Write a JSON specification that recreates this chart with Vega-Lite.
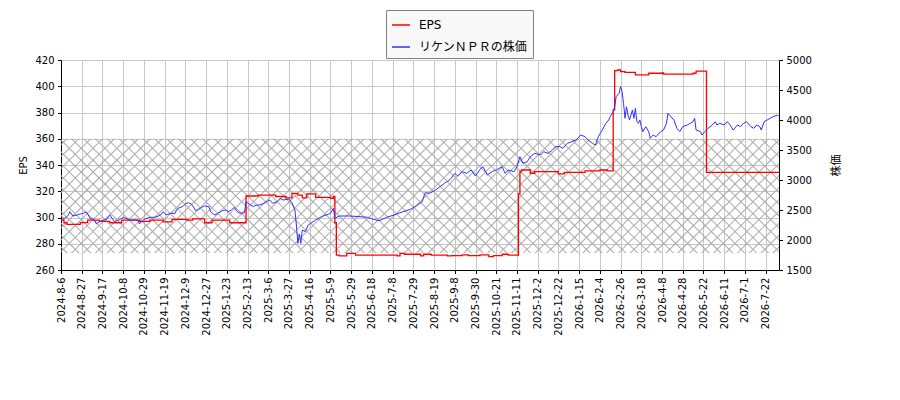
{
  "$schema": "https://vega.github.io/schema/vega-lite/v6.json",
  "width": 718,
  "height": 210,
  "autosize": {"type": "none"},
  "padding": {"left": 61, "top": 60, "right": 121, "bottom": 130},
  "background": "white",
  "view": {"stroke": null},
  "config": {
    "font": "DejaVu Sans",
    "axis": {
      "labelFont": "DejaVu Sans",
      "labelFontSize": 10,
      "labelColor": "black",
      "titleFont": "DejaVu Sans, Noto Sans CJK JP",
      "titleFontSize": 10,
      "titleFontWeight": "normal",
      "titleColor": "black",
      "domainColor": "black",
      "tickColor": "black",
      "tickSize": 3.5,
      "labelPadding": 3.5,
      "gridColor": "#c8c8c8",
      "gridOpacity": 1,
      "labelOverlap": false,
      "labelFlush": false
    }
  },
  "datasets": {
    "eps": [
      {"day": 0, "eps": 298.1}, {"day": 2, "eps": 296}, {"day": 4, "eps": 294.8}, {"day": 13, "eps": 296.1},
      {"day": 18, "eps": 298}, {"day": 26, "eps": 297}, {"day": 33, "eps": 296}, {"day": 41, "eps": 298},
      {"day": 53, "eps": 297}, {"day": 60, "eps": 298}, {"day": 69, "eps": 296.6}, {"day": 75, "eps": 298.5},
      {"day": 85, "eps": 298}, {"day": 89, "eps": 299}, {"day": 97, "eps": 296}, {"day": 102, "eps": 298},
      {"day": 114, "eps": 296}, {"day": 125, "eps": 316.4}, {"day": 133, "eps": 317.1}, {"day": 145, "eps": 316},
      {"day": 152, "eps": 315}, {"day": 156, "eps": 318.4}, {"day": 160, "eps": 317}, {"day": 163, "eps": 315},
      {"day": 166, "eps": 318}, {"day": 172, "eps": 315.4}, {"day": 182, "eps": 314.5}, {"day": 184, "eps": 316},
      {"day": 185, "eps": 296}, {"day": 186, "eps": 271.4}, {"day": 188, "eps": 270.7}, {"day": 193, "eps": 272.7},
      {"day": 199, "eps": 271.4}, {"day": 227, "eps": 270.7}, {"day": 229, "eps": 272.7}, {"day": 232, "eps": 272},
      {"day": 243, "eps": 270.7}, {"day": 245, "eps": 272}, {"day": 250, "eps": 271.4}, {"day": 261, "eps": 270.7},
      {"day": 264, "eps": 270.9}, {"day": 271, "eps": 271.6}, {"day": 275, "eps": 270.9}, {"day": 283, "eps": 271.6},
      {"day": 289, "eps": 270.2}, {"day": 292, "eps": 270.9}, {"day": 298, "eps": 272}, {"day": 302, "eps": 271.4},
      {"day": 309, "eps": 318}, {"day": 310, "eps": 335}, {"day": 311, "eps": 336.2}, {"day": 317, "eps": 333.7},
      {"day": 320, "eps": 334.9}, {"day": 336, "eps": 333.3}, {"day": 340, "eps": 334.4}, {"day": 354, "eps": 335.6},
      {"day": 364, "eps": 336.2}, {"day": 369, "eps": 335.6}, {"day": 373, "eps": 382}, {"day": 374, "eps": 411.9},
      {"day": 376, "eps": 412.4}, {"day": 378, "eps": 411.1}, {"day": 381, "eps": 410.6}, {"day": 388, "eps": 408.6},
      {"day": 397, "eps": 409.9}, {"day": 406, "eps": 410.2}, {"day": 407, "eps": 409.2}, {"day": 427, "eps": 409.9},
      {"day": 429, "eps": 411.6}, {"day": 436, "eps": 334.4}, {"day": 485, "eps": 334.4}
    ],
    "price": [
      {"day": 0, "price": 2378}, {"day": 2, "price": 2361}, {"day": 4, "price": 2389}, {"day": 5, "price": 2417},
      {"day": 6, "price": 2472}, {"day": 8, "price": 2400}, {"day": 11, "price": 2417}, {"day": 13, "price": 2433},
      {"day": 15, "price": 2444}, {"day": 17, "price": 2472}, {"day": 20, "price": 2350}, {"day": 22, "price": 2350},
      {"day": 24, "price": 2267}, {"day": 26, "price": 2306}, {"day": 29, "price": 2333}, {"day": 31, "price": 2350},
      {"day": 33, "price": 2417}, {"day": 36, "price": 2306}, {"day": 38, "price": 2322}, {"day": 40, "price": 2344},
      {"day": 42, "price": 2378}, {"day": 47, "price": 2333}, {"day": 52, "price": 2333}, {"day": 53, "price": 2267},
      {"day": 56, "price": 2344}, {"day": 60, "price": 2378}, {"day": 63, "price": 2378}, {"day": 66, "price": 2400},
      {"day": 68, "price": 2433}, {"day": 69, "price": 2472}, {"day": 71, "price": 2417}, {"day": 74, "price": 2444},
      {"day": 77, "price": 2444}, {"day": 78, "price": 2500}, {"day": 79, "price": 2528}, {"day": 82, "price": 2556},
      {"day": 84, "price": 2600}, {"day": 86, "price": 2622}, {"day": 88, "price": 2600}, {"day": 89, "price": 2567},
      {"day": 91, "price": 2489}, {"day": 93, "price": 2511}, {"day": 95, "price": 2544}, {"day": 97, "price": 2567},
      {"day": 100, "price": 2556}, {"day": 101, "price": 2472}, {"day": 103, "price": 2433}, {"day": 104, "price": 2417},
      {"day": 106, "price": 2444}, {"day": 109, "price": 2489}, {"day": 111, "price": 2500}, {"day": 113, "price": 2472},
      {"day": 115, "price": 2500}, {"day": 117, "price": 2544}, {"day": 119, "price": 2472}, {"day": 121, "price": 2444},
      {"day": 124, "price": 2456}, {"day": 125, "price": 2639}, {"day": 128, "price": 2583}, {"day": 130, "price": 2556},
      {"day": 132, "price": 2583}, {"day": 134, "price": 2583}, {"day": 137, "price": 2611}, {"day": 139, "price": 2639},
      {"day": 141, "price": 2667}, {"day": 143, "price": 2611}, {"day": 146, "price": 2639}, {"day": 148, "price": 2694},
      {"day": 150, "price": 2667}, {"day": 154, "price": 2680}, {"day": 156, "price": 2620}, {"day": 158, "price": 2500},
      {"day": 159, "price": 2250}, {"day": 160, "price": 1944}, {"day": 161, "price": 2100}, {"day": 162, "price": 1944},
      {"day": 163, "price": 2167}, {"day": 165, "price": 2139}, {"day": 167, "price": 2250}, {"day": 172, "price": 2333},
      {"day": 176, "price": 2389}, {"day": 182, "price": 2444}, {"day": 184, "price": 2528}, {"day": 185, "price": 2361},
      {"day": 188, "price": 2400}, {"day": 195, "price": 2400}, {"day": 202, "price": 2389}, {"day": 207, "price": 2378},
      {"day": 211, "price": 2344}, {"day": 215, "price": 2322}, {"day": 220, "price": 2378}, {"day": 225, "price": 2417},
      {"day": 231, "price": 2472}, {"day": 236, "price": 2511}, {"day": 240, "price": 2567}, {"day": 244, "price": 2639},
      {"day": 246, "price": 2789}, {"day": 249, "price": 2778}, {"day": 253, "price": 2833}, {"day": 256, "price": 2889},
      {"day": 259, "price": 2944}, {"day": 263, "price": 3011}, {"day": 266, "price": 3111}, {"day": 268, "price": 3067},
      {"day": 271, "price": 3139}, {"day": 274, "price": 3111}, {"day": 277, "price": 3167}, {"day": 280, "price": 3067},
      {"day": 283, "price": 3178}, {"day": 285, "price": 3222}, {"day": 288, "price": 3083}, {"day": 291, "price": 3139},
      {"day": 294, "price": 3167}, {"day": 298, "price": 3222}, {"day": 300, "price": 3111}, {"day": 302, "price": 3167},
      {"day": 306, "price": 3139}, {"day": 308, "price": 3222}, {"day": 310, "price": 3389}, {"day": 312, "price": 3278},
      {"day": 315, "price": 3306}, {"day": 317, "price": 3389}, {"day": 320, "price": 3444}, {"day": 324, "price": 3417},
      {"day": 326, "price": 3472}, {"day": 329, "price": 3444}, {"day": 332, "price": 3500}, {"day": 334, "price": 3556},
      {"day": 337, "price": 3556}, {"day": 339, "price": 3528}, {"day": 342, "price": 3611}, {"day": 345, "price": 3639},
      {"day": 348, "price": 3667}, {"day": 351, "price": 3750}, {"day": 354, "price": 3722}, {"day": 356, "price": 3667},
      {"day": 359, "price": 3611}, {"day": 361, "price": 3583}, {"day": 363, "price": 3722}, {"day": 365, "price": 3806},
      {"day": 368, "price": 3944}, {"day": 370, "price": 4000}, {"day": 371, "price": 4056}, {"day": 373, "price": 4139},
      {"day": 374, "price": 4222}, {"day": 375, "price": 4389}, {"day": 377, "price": 4444}, {"day": 378, "price": 4556},
      {"day": 379, "price": 4472}, {"day": 380, "price": 4278}, {"day": 381, "price": 4028}, {"day": 382, "price": 4222},
      {"day": 383, "price": 4083}, {"day": 384, "price": 4000}, {"day": 386, "price": 4167}, {"day": 387, "price": 4028},
      {"day": 388, "price": 4194}, {"day": 389, "price": 3972}, {"day": 390, "price": 3944}, {"day": 391, "price": 4000},
      {"day": 392, "price": 3889}, {"day": 393, "price": 3806}, {"day": 395, "price": 3889}, {"day": 397, "price": 3806},
      {"day": 398, "price": 3694}, {"day": 400, "price": 3750}, {"day": 402, "price": 3722}, {"day": 405, "price": 3806},
      {"day": 407, "price": 3833}, {"day": 409, "price": 3944}, {"day": 410, "price": 4111}, {"day": 411, "price": 4083},
      {"day": 414, "price": 4000}, {"day": 416, "price": 3861}, {"day": 418, "price": 3806}, {"day": 420, "price": 3889},
      {"day": 423, "price": 3917}, {"day": 425, "price": 3944}, {"day": 427, "price": 3972}, {"day": 428, "price": 4028},
      {"day": 429, "price": 3833}, {"day": 432, "price": 3806}, {"day": 433, "price": 3750}, {"day": 435, "price": 3806},
      {"day": 437, "price": 3861}, {"day": 440, "price": 3917}, {"day": 442, "price": 3972}, {"day": 443, "price": 3917},
      {"day": 445, "price": 3944}, {"day": 448, "price": 3917}, {"day": 450, "price": 3972}, {"day": 452, "price": 3917},
      {"day": 454, "price": 3833}, {"day": 457, "price": 3917}, {"day": 459, "price": 3889}, {"day": 461, "price": 3944},
      {"day": 463, "price": 3972}, {"day": 466, "price": 3889}, {"day": 468, "price": 3861}, {"day": 470, "price": 3917},
      {"day": 472, "price": 3889}, {"day": 473, "price": 3833}, {"day": 475, "price": 3972}, {"day": 477, "price": 4000},
      {"day": 479, "price": 4028}, {"day": 481, "price": 4056}, {"day": 484, "price": 4083}, {"day": 485, "price": 4056}
    ]
  },
  "layer": [
    {
      "layer": [
        {
          "data": {"values": [{}]},
          "mark": {
            "type": "rect",
            "fill": {
              "gradient": "linear", "x1": 0, "y1": 0, "x2": 1.1305, "y2": 0.1798,
              "stops": [
                {"offset":0.00544,"color":"#aaa0"},{"offset":0.00714,"color":"#aaa"},{"offset":0.00884,"color":"#aaa0"},
                {"offset":0.01973,"color":"#aaa0"},{"offset":0.02143,"color":"#aaa"},{"offset":0.02313,"color":"#aaa0"},
                {"offset":0.03401,"color":"#aaa0"},{"offset":0.03571,"color":"#aaa"},{"offset":0.03741,"color":"#aaa0"},
                {"offset":0.0483,"color":"#aaa0"},{"offset":0.05,"color":"#aaa"},{"offset":0.0517,"color":"#aaa0"},
                {"offset":0.06259,"color":"#aaa0"},{"offset":0.06429,"color":"#aaa"},{"offset":0.06599,"color":"#aaa0"},
                {"offset":0.07687,"color":"#aaa0"},{"offset":0.07857,"color":"#aaa"},{"offset":0.08027,"color":"#aaa0"},
                {"offset":0.09116,"color":"#aaa0"},{"offset":0.09286,"color":"#aaa"},{"offset":0.09456,"color":"#aaa0"},
                {"offset":0.10544,"color":"#aaa0"},{"offset":0.10714,"color":"#aaa"},{"offset":0.10884,"color":"#aaa0"},
                {"offset":0.11973,"color":"#aaa0"},{"offset":0.12143,"color":"#aaa"},{"offset":0.12313,"color":"#aaa0"},
                {"offset":0.13401,"color":"#aaa0"},{"offset":0.13571,"color":"#aaa"},{"offset":0.13741,"color":"#aaa0"},
                {"offset":0.1483,"color":"#aaa0"},{"offset":0.15,"color":"#aaa"},{"offset":0.1517,"color":"#aaa0"},
                {"offset":0.16259,"color":"#aaa0"},{"offset":0.16429,"color":"#aaa"},{"offset":0.16599,"color":"#aaa0"},
                {"offset":0.17687,"color":"#aaa0"},{"offset":0.17857,"color":"#aaa"},{"offset":0.18027,"color":"#aaa0"},
                {"offset":0.19116,"color":"#aaa0"},{"offset":0.19286,"color":"#aaa"},{"offset":0.19456,"color":"#aaa0"},
                {"offset":0.20544,"color":"#aaa0"},{"offset":0.20714,"color":"#aaa"},{"offset":0.20884,"color":"#aaa0"},
                {"offset":0.21973,"color":"#aaa0"},{"offset":0.22143,"color":"#aaa"},{"offset":0.22313,"color":"#aaa0"},
                {"offset":0.23401,"color":"#aaa0"},{"offset":0.23571,"color":"#aaa"},{"offset":0.23741,"color":"#aaa0"},
                {"offset":0.2483,"color":"#aaa0"},{"offset":0.25,"color":"#aaa"},{"offset":0.2517,"color":"#aaa0"},
                {"offset":0.26259,"color":"#aaa0"},{"offset":0.26429,"color":"#aaa"},{"offset":0.26599,"color":"#aaa0"},
                {"offset":0.27687,"color":"#aaa0"},{"offset":0.27857,"color":"#aaa"},{"offset":0.28027,"color":"#aaa0"},
                {"offset":0.29116,"color":"#aaa0"},{"offset":0.29286,"color":"#aaa"},{"offset":0.29456,"color":"#aaa0"},
                {"offset":0.30544,"color":"#aaa0"},{"offset":0.30714,"color":"#aaa"},{"offset":0.30884,"color":"#aaa0"},
                {"offset":0.31973,"color":"#aaa0"},{"offset":0.32143,"color":"#aaa"},{"offset":0.32313,"color":"#aaa0"},
                {"offset":0.33401,"color":"#aaa0"},{"offset":0.33571,"color":"#aaa"},{"offset":0.33741,"color":"#aaa0"},
                {"offset":0.3483,"color":"#aaa0"},{"offset":0.35,"color":"#aaa"},{"offset":0.3517,"color":"#aaa0"},
                {"offset":0.36259,"color":"#aaa0"},{"offset":0.36429,"color":"#aaa"},{"offset":0.36599,"color":"#aaa0"},
                {"offset":0.37687,"color":"#aaa0"},{"offset":0.37857,"color":"#aaa"},{"offset":0.38027,"color":"#aaa0"},
                {"offset":0.39116,"color":"#aaa0"},{"offset":0.39286,"color":"#aaa"},{"offset":0.39456,"color":"#aaa0"},
                {"offset":0.40544,"color":"#aaa0"},{"offset":0.40714,"color":"#aaa"},{"offset":0.40884,"color":"#aaa0"},
                {"offset":0.41973,"color":"#aaa0"},{"offset":0.42143,"color":"#aaa"},{"offset":0.42313,"color":"#aaa0"},
                {"offset":0.43401,"color":"#aaa0"},{"offset":0.43571,"color":"#aaa"},{"offset":0.43741,"color":"#aaa0"},
                {"offset":0.4483,"color":"#aaa0"},{"offset":0.45,"color":"#aaa"},{"offset":0.4517,"color":"#aaa0"},
                {"offset":0.46259,"color":"#aaa0"},{"offset":0.46429,"color":"#aaa"},{"offset":0.46599,"color":"#aaa0"},
                {"offset":0.47687,"color":"#aaa0"},{"offset":0.47857,"color":"#aaa"},{"offset":0.48027,"color":"#aaa0"},
                {"offset":0.49116,"color":"#aaa0"},{"offset":0.49286,"color":"#aaa"},{"offset":0.49456,"color":"#aaa0"},
                {"offset":0.50544,"color":"#aaa0"},{"offset":0.50714,"color":"#aaa"},{"offset":0.50884,"color":"#aaa0"},
                {"offset":0.51973,"color":"#aaa0"},{"offset":0.52143,"color":"#aaa"},{"offset":0.52313,"color":"#aaa0"},
                {"offset":0.53401,"color":"#aaa0"},{"offset":0.53571,"color":"#aaa"},{"offset":0.53741,"color":"#aaa0"},
                {"offset":0.5483,"color":"#aaa0"},{"offset":0.55,"color":"#aaa"},{"offset":0.5517,"color":"#aaa0"},
                {"offset":0.56259,"color":"#aaa0"},{"offset":0.56429,"color":"#aaa"},{"offset":0.56599,"color":"#aaa0"},
                {"offset":0.57687,"color":"#aaa0"},{"offset":0.57857,"color":"#aaa"},{"offset":0.58027,"color":"#aaa0"},
                {"offset":0.59116,"color":"#aaa0"},{"offset":0.59286,"color":"#aaa"},{"offset":0.59456,"color":"#aaa0"},
                {"offset":0.60544,"color":"#aaa0"},{"offset":0.60714,"color":"#aaa"},{"offset":0.60884,"color":"#aaa0"},
                {"offset":0.61973,"color":"#aaa0"},{"offset":0.62143,"color":"#aaa"},{"offset":0.62313,"color":"#aaa0"},
                {"offset":0.63401,"color":"#aaa0"},{"offset":0.63571,"color":"#aaa"},{"offset":0.63741,"color":"#aaa0"},
                {"offset":0.6483,"color":"#aaa0"},{"offset":0.65,"color":"#aaa"},{"offset":0.6517,"color":"#aaa0"},
                {"offset":0.66259,"color":"#aaa0"},{"offset":0.66429,"color":"#aaa"},{"offset":0.66599,"color":"#aaa0"},
                {"offset":0.67687,"color":"#aaa0"},{"offset":0.67857,"color":"#aaa"},{"offset":0.68027,"color":"#aaa0"},
                {"offset":0.69116,"color":"#aaa0"},{"offset":0.69286,"color":"#aaa"},{"offset":0.69456,"color":"#aaa0"},
                {"offset":0.70544,"color":"#aaa0"},{"offset":0.70714,"color":"#aaa"},{"offset":0.70884,"color":"#aaa0"},
                {"offset":0.71973,"color":"#aaa0"},{"offset":0.72143,"color":"#aaa"},{"offset":0.72313,"color":"#aaa0"},
                {"offset":0.73401,"color":"#aaa0"},{"offset":0.73571,"color":"#aaa"},{"offset":0.73741,"color":"#aaa0"},
                {"offset":0.7483,"color":"#aaa0"},{"offset":0.75,"color":"#aaa"},{"offset":0.7517,"color":"#aaa0"},
                {"offset":0.76259,"color":"#aaa0"},{"offset":0.76429,"color":"#aaa"},{"offset":0.76599,"color":"#aaa0"},
                {"offset":0.77687,"color":"#aaa0"},{"offset":0.77857,"color":"#aaa"},{"offset":0.78027,"color":"#aaa0"},
                {"offset":0.79116,"color":"#aaa0"},{"offset":0.79286,"color":"#aaa"},{"offset":0.79456,"color":"#aaa0"},
                {"offset":0.80544,"color":"#aaa0"},{"offset":0.80714,"color":"#aaa"},{"offset":0.80884,"color":"#aaa0"},
                {"offset":0.81973,"color":"#aaa0"},{"offset":0.82143,"color":"#aaa"},{"offset":0.82313,"color":"#aaa0"},
                {"offset":0.83401,"color":"#aaa0"},{"offset":0.83571,"color":"#aaa"},{"offset":0.83741,"color":"#aaa0"},
                {"offset":0.8483,"color":"#aaa0"},{"offset":0.85,"color":"#aaa"},{"offset":0.8517,"color":"#aaa0"},
                {"offset":0.86259,"color":"#aaa0"},{"offset":0.86429,"color":"#aaa"},{"offset":0.86599,"color":"#aaa0"},
                {"offset":0.87687,"color":"#aaa0"},{"offset":0.87857,"color":"#aaa"},{"offset":0.88027,"color":"#aaa0"},
                {"offset":0.89116,"color":"#aaa0"},{"offset":0.89286,"color":"#aaa"},{"offset":0.89456,"color":"#aaa0"},
                {"offset":0.90544,"color":"#aaa0"},{"offset":0.90714,"color":"#aaa"},{"offset":0.90884,"color":"#aaa0"},
                {"offset":0.91973,"color":"#aaa0"},{"offset":0.92143,"color":"#aaa"},{"offset":0.92313,"color":"#aaa0"},
                {"offset":0.93401,"color":"#aaa0"},{"offset":0.93571,"color":"#aaa"},{"offset":0.93741,"color":"#aaa0"},
                {"offset":0.9483,"color":"#aaa0"},{"offset":0.95,"color":"#aaa"},{"offset":0.9517,"color":"#aaa0"},
                {"offset":0.96259,"color":"#aaa0"},{"offset":0.96429,"color":"#aaa"},{"offset":0.96599,"color":"#aaa0"},
                {"offset":0.97687,"color":"#aaa0"},{"offset":0.97857,"color":"#aaa"},{"offset":0.98027,"color":"#aaa0"},
                {"offset":0.99116,"color":"#aaa0"},{"offset":0.99286,"color":"#aaa"},{"offset":0.99456,"color":"#aaa0"}
              ]
            }
          },
          "encoding": {
            "x": {
              "datum": 0, "type": "quantitative", "title": null,
              "scale": {"domain": [0, 485], "nice": false, "zero": false},
              "axis": {
                "values": [0, 14, 28, 42, 56, 70, 84, 98, 112, 126, 140, 154, 168, 182, 196, 210, 224, 238, 252, 266, 280, 294, 308, 322, 336, 350, 364, 378, 392, 406, 420, 434, 448, 462, 476],
                "labelExpr": "['2024-8-6','2024-8-27','2024-9-17','2024-10-8','2024-10-29','2024-11-19','2024-12-9','2024-12-27','2025-1-23','2025-2-13','2025-3-6','2025-3-27','2025-4-16','2025-5-9','2025-5-29','2025-6-18','2025-7-8','2025-7-29','2025-8-19','2025-9-8','2025-9-30','2025-10-21','2025-11-11','2025-12-2','2025-12-22','2026-1-15','2026-2-4','2026-2-26','2026-3-18','2026-4-8','2026-4-28','2026-5-22','2026-6-11','2026-7-1','2026-7-22'][round(datum.value / 14)]",
                "labelAngle": 270, "grid": true, "labelOverlap": false
              }
            },
            "x2": {"datum": 485},
            "y": {
              "datum": 360, "type": "quantitative", "title": "EPS",
              "scale": {"domain": [260, 420], "nice": false, "zero": false},
              "axis": {"values": [260, 280, 300, 320, 340, 360, 380, 400, 420], "grid": true, "titlePadding": 6, "labelOverlap": false}
            },
            "y2": {"datum": 273}
          }
        },
        {
          "data": {"values": [{}]},
          "mark": {
            "type": "rect",
            "fill": {
              "gradient": "linear", "x1": 0, "y1": 1, "x2": 1.1305, "y2": 0.8202,
              "stops": [
                {"offset":0.00544,"color":"#aaa0"},{"offset":0.00714,"color":"#aaa"},{"offset":0.00884,"color":"#aaa0"},
                {"offset":0.01973,"color":"#aaa0"},{"offset":0.02143,"color":"#aaa"},{"offset":0.02313,"color":"#aaa0"},
                {"offset":0.03401,"color":"#aaa0"},{"offset":0.03571,"color":"#aaa"},{"offset":0.03741,"color":"#aaa0"},
                {"offset":0.0483,"color":"#aaa0"},{"offset":0.05,"color":"#aaa"},{"offset":0.0517,"color":"#aaa0"},
                {"offset":0.06259,"color":"#aaa0"},{"offset":0.06429,"color":"#aaa"},{"offset":0.06599,"color":"#aaa0"},
                {"offset":0.07687,"color":"#aaa0"},{"offset":0.07857,"color":"#aaa"},{"offset":0.08027,"color":"#aaa0"},
                {"offset":0.09116,"color":"#aaa0"},{"offset":0.09286,"color":"#aaa"},{"offset":0.09456,"color":"#aaa0"},
                {"offset":0.10544,"color":"#aaa0"},{"offset":0.10714,"color":"#aaa"},{"offset":0.10884,"color":"#aaa0"},
                {"offset":0.11973,"color":"#aaa0"},{"offset":0.12143,"color":"#aaa"},{"offset":0.12313,"color":"#aaa0"},
                {"offset":0.13401,"color":"#aaa0"},{"offset":0.13571,"color":"#aaa"},{"offset":0.13741,"color":"#aaa0"},
                {"offset":0.1483,"color":"#aaa0"},{"offset":0.15,"color":"#aaa"},{"offset":0.1517,"color":"#aaa0"},
                {"offset":0.16259,"color":"#aaa0"},{"offset":0.16429,"color":"#aaa"},{"offset":0.16599,"color":"#aaa0"},
                {"offset":0.17687,"color":"#aaa0"},{"offset":0.17857,"color":"#aaa"},{"offset":0.18027,"color":"#aaa0"},
                {"offset":0.19116,"color":"#aaa0"},{"offset":0.19286,"color":"#aaa"},{"offset":0.19456,"color":"#aaa0"},
                {"offset":0.20544,"color":"#aaa0"},{"offset":0.20714,"color":"#aaa"},{"offset":0.20884,"color":"#aaa0"},
                {"offset":0.21973,"color":"#aaa0"},{"offset":0.22143,"color":"#aaa"},{"offset":0.22313,"color":"#aaa0"},
                {"offset":0.23401,"color":"#aaa0"},{"offset":0.23571,"color":"#aaa"},{"offset":0.23741,"color":"#aaa0"},
                {"offset":0.2483,"color":"#aaa0"},{"offset":0.25,"color":"#aaa"},{"offset":0.2517,"color":"#aaa0"},
                {"offset":0.26259,"color":"#aaa0"},{"offset":0.26429,"color":"#aaa"},{"offset":0.26599,"color":"#aaa0"},
                {"offset":0.27687,"color":"#aaa0"},{"offset":0.27857,"color":"#aaa"},{"offset":0.28027,"color":"#aaa0"},
                {"offset":0.29116,"color":"#aaa0"},{"offset":0.29286,"color":"#aaa"},{"offset":0.29456,"color":"#aaa0"},
                {"offset":0.30544,"color":"#aaa0"},{"offset":0.30714,"color":"#aaa"},{"offset":0.30884,"color":"#aaa0"},
                {"offset":0.31973,"color":"#aaa0"},{"offset":0.32143,"color":"#aaa"},{"offset":0.32313,"color":"#aaa0"},
                {"offset":0.33401,"color":"#aaa0"},{"offset":0.33571,"color":"#aaa"},{"offset":0.33741,"color":"#aaa0"},
                {"offset":0.3483,"color":"#aaa0"},{"offset":0.35,"color":"#aaa"},{"offset":0.3517,"color":"#aaa0"},
                {"offset":0.36259,"color":"#aaa0"},{"offset":0.36429,"color":"#aaa"},{"offset":0.36599,"color":"#aaa0"},
                {"offset":0.37687,"color":"#aaa0"},{"offset":0.37857,"color":"#aaa"},{"offset":0.38027,"color":"#aaa0"},
                {"offset":0.39116,"color":"#aaa0"},{"offset":0.39286,"color":"#aaa"},{"offset":0.39456,"color":"#aaa0"},
                {"offset":0.40544,"color":"#aaa0"},{"offset":0.40714,"color":"#aaa"},{"offset":0.40884,"color":"#aaa0"},
                {"offset":0.41973,"color":"#aaa0"},{"offset":0.42143,"color":"#aaa"},{"offset":0.42313,"color":"#aaa0"},
                {"offset":0.43401,"color":"#aaa0"},{"offset":0.43571,"color":"#aaa"},{"offset":0.43741,"color":"#aaa0"},
                {"offset":0.4483,"color":"#aaa0"},{"offset":0.45,"color":"#aaa"},{"offset":0.4517,"color":"#aaa0"},
                {"offset":0.46259,"color":"#aaa0"},{"offset":0.46429,"color":"#aaa"},{"offset":0.46599,"color":"#aaa0"},
                {"offset":0.47687,"color":"#aaa0"},{"offset":0.47857,"color":"#aaa"},{"offset":0.48027,"color":"#aaa0"},
                {"offset":0.49116,"color":"#aaa0"},{"offset":0.49286,"color":"#aaa"},{"offset":0.49456,"color":"#aaa0"},
                {"offset":0.50544,"color":"#aaa0"},{"offset":0.50714,"color":"#aaa"},{"offset":0.50884,"color":"#aaa0"},
                {"offset":0.51973,"color":"#aaa0"},{"offset":0.52143,"color":"#aaa"},{"offset":0.52313,"color":"#aaa0"},
                {"offset":0.53401,"color":"#aaa0"},{"offset":0.53571,"color":"#aaa"},{"offset":0.53741,"color":"#aaa0"},
                {"offset":0.5483,"color":"#aaa0"},{"offset":0.55,"color":"#aaa"},{"offset":0.5517,"color":"#aaa0"},
                {"offset":0.56259,"color":"#aaa0"},{"offset":0.56429,"color":"#aaa"},{"offset":0.56599,"color":"#aaa0"},
                {"offset":0.57687,"color":"#aaa0"},{"offset":0.57857,"color":"#aaa"},{"offset":0.58027,"color":"#aaa0"},
                {"offset":0.59116,"color":"#aaa0"},{"offset":0.59286,"color":"#aaa"},{"offset":0.59456,"color":"#aaa0"},
                {"offset":0.60544,"color":"#aaa0"},{"offset":0.60714,"color":"#aaa"},{"offset":0.60884,"color":"#aaa0"},
                {"offset":0.61973,"color":"#aaa0"},{"offset":0.62143,"color":"#aaa"},{"offset":0.62313,"color":"#aaa0"},
                {"offset":0.63401,"color":"#aaa0"},{"offset":0.63571,"color":"#aaa"},{"offset":0.63741,"color":"#aaa0"},
                {"offset":0.6483,"color":"#aaa0"},{"offset":0.65,"color":"#aaa"},{"offset":0.6517,"color":"#aaa0"},
                {"offset":0.66259,"color":"#aaa0"},{"offset":0.66429,"color":"#aaa"},{"offset":0.66599,"color":"#aaa0"},
                {"offset":0.67687,"color":"#aaa0"},{"offset":0.67857,"color":"#aaa"},{"offset":0.68027,"color":"#aaa0"},
                {"offset":0.69116,"color":"#aaa0"},{"offset":0.69286,"color":"#aaa"},{"offset":0.69456,"color":"#aaa0"},
                {"offset":0.70544,"color":"#aaa0"},{"offset":0.70714,"color":"#aaa"},{"offset":0.70884,"color":"#aaa0"},
                {"offset":0.71973,"color":"#aaa0"},{"offset":0.72143,"color":"#aaa"},{"offset":0.72313,"color":"#aaa0"},
                {"offset":0.73401,"color":"#aaa0"},{"offset":0.73571,"color":"#aaa"},{"offset":0.73741,"color":"#aaa0"},
                {"offset":0.7483,"color":"#aaa0"},{"offset":0.75,"color":"#aaa"},{"offset":0.7517,"color":"#aaa0"},
                {"offset":0.76259,"color":"#aaa0"},{"offset":0.76429,"color":"#aaa"},{"offset":0.76599,"color":"#aaa0"},
                {"offset":0.77687,"color":"#aaa0"},{"offset":0.77857,"color":"#aaa"},{"offset":0.78027,"color":"#aaa0"},
                {"offset":0.79116,"color":"#aaa0"},{"offset":0.79286,"color":"#aaa"},{"offset":0.79456,"color":"#aaa0"},
                {"offset":0.80544,"color":"#aaa0"},{"offset":0.80714,"color":"#aaa"},{"offset":0.80884,"color":"#aaa0"},
                {"offset":0.81973,"color":"#aaa0"},{"offset":0.82143,"color":"#aaa"},{"offset":0.82313,"color":"#aaa0"},
                {"offset":0.83401,"color":"#aaa0"},{"offset":0.83571,"color":"#aaa"},{"offset":0.83741,"color":"#aaa0"},
                {"offset":0.8483,"color":"#aaa0"},{"offset":0.85,"color":"#aaa"},{"offset":0.8517,"color":"#aaa0"},
                {"offset":0.86259,"color":"#aaa0"},{"offset":0.86429,"color":"#aaa"},{"offset":0.86599,"color":"#aaa0"},
                {"offset":0.87687,"color":"#aaa0"},{"offset":0.87857,"color":"#aaa"},{"offset":0.88027,"color":"#aaa0"},
                {"offset":0.89116,"color":"#aaa0"},{"offset":0.89286,"color":"#aaa"},{"offset":0.89456,"color":"#aaa0"},
                {"offset":0.90544,"color":"#aaa0"},{"offset":0.90714,"color":"#aaa"},{"offset":0.90884,"color":"#aaa0"},
                {"offset":0.91973,"color":"#aaa0"},{"offset":0.92143,"color":"#aaa"},{"offset":0.92313,"color":"#aaa0"},
                {"offset":0.93401,"color":"#aaa0"},{"offset":0.93571,"color":"#aaa"},{"offset":0.93741,"color":"#aaa0"},
                {"offset":0.9483,"color":"#aaa0"},{"offset":0.95,"color":"#aaa"},{"offset":0.9517,"color":"#aaa0"},
                {"offset":0.96259,"color":"#aaa0"},{"offset":0.96429,"color":"#aaa"},{"offset":0.96599,"color":"#aaa0"},
                {"offset":0.97687,"color":"#aaa0"},{"offset":0.97857,"color":"#aaa"},{"offset":0.98027,"color":"#aaa0"},
                {"offset":0.99116,"color":"#aaa0"},{"offset":0.99286,"color":"#aaa"},{"offset":0.99456,"color":"#aaa0"}
              ]
            }
          },
          "encoding": {
            "x": {
              "datum": 0, "type": "quantitative", "title": null,
              "scale": {"domain": [0, 485], "nice": false, "zero": false},
              "axis": {
                "values": [0, 14, 28, 42, 56, 70, 84, 98, 112, 126, 140, 154, 168, 182, 196, 210, 224, 238, 252, 266, 280, 294, 308, 322, 336, 350, 364, 378, 392, 406, 420, 434, 448, 462, 476],
                "labelExpr": "['2024-8-6','2024-8-27','2024-9-17','2024-10-8','2024-10-29','2024-11-19','2024-12-9','2024-12-27','2025-1-23','2025-2-13','2025-3-6','2025-3-27','2025-4-16','2025-5-9','2025-5-29','2025-6-18','2025-7-8','2025-7-29','2025-8-19','2025-9-8','2025-9-30','2025-10-21','2025-11-11','2025-12-2','2025-12-22','2026-1-15','2026-2-4','2026-2-26','2026-3-18','2026-4-8','2026-4-28','2026-5-22','2026-6-11','2026-7-1','2026-7-22'][round(datum.value / 14)]",
                "labelAngle": 270, "grid": true, "labelOverlap": false
              }
            },
            "x2": {"datum": 485},
            "y": {
              "datum": 360, "type": "quantitative", "title": "EPS",
              "scale": {"domain": [260, 420], "nice": false, "zero": false},
              "axis": {"values": [260, 280, 300, 320, 340, 360, 380, 400, 420], "grid": true, "titlePadding": 6, "labelOverlap": false}
            },
            "y2": {"datum": 273}
          }
        },
        {
          "data": {"name": "eps"},
          "mark": {"type": "line", "interpolate": "step-after", "strokeWidth": 1.3},
          "encoding": {
            "x": {
              "field": "day", "type": "quantitative", "title": null,
              "scale": {"domain": [0, 485], "nice": false, "zero": false},
              "axis": {
                "values": [0, 14, 28, 42, 56, 70, 84, 98, 112, 126, 140, 154, 168, 182, 196, 210, 224, 238, 252, 266, 280, 294, 308, 322, 336, 350, 364, 378, 392, 406, 420, 434, 448, 462, 476],
                "labelExpr": "['2024-8-6','2024-8-27','2024-9-17','2024-10-8','2024-10-29','2024-11-19','2024-12-9','2024-12-27','2025-1-23','2025-2-13','2025-3-6','2025-3-27','2025-4-16','2025-5-9','2025-5-29','2025-6-18','2025-7-8','2025-7-29','2025-8-19','2025-9-8','2025-9-30','2025-10-21','2025-11-11','2025-12-2','2025-12-22','2026-1-15','2026-2-4','2026-2-26','2026-3-18','2026-4-8','2026-4-28','2026-5-22','2026-6-11','2026-7-1','2026-7-22'][round(datum.value / 14)]",
                "labelAngle": 270, "grid": true, "labelOverlap": false
              }
            },
            "y": {
              "field": "eps", "type": "quantitative", "title": "EPS",
              "scale": {"domain": [260, 420], "nice": false, "zero": false},
              "axis": {"values": [260, 280, 300, 320, 340, 360, 380, 400, 420], "grid": true, "titlePadding": 6, "labelOverlap": false}
            },
            "color": {
              "datum": "EPS", "type": "nominal",
              "scale": {"domain": ["EPS", "リケンＮＰＲの株価"], "range": ["#ff0000", "#3030ff"]},
              "legend": {
                "orient": "none", "legendX": 325, "legendY": -50, "title": null,
                "symbolType": "stroke", "symbolSize": 324, "symbolStrokeWidth": 1.5,
                "labelFont": "DejaVu Sans, Noto Sans CJK JP", "labelFontSize": 12, "labelColor": "black",
                "padding": 5, "rowPadding": 6, "labelOffset": 8,
                "strokeColor": "#808080", "fillColor": "#f8f8f8"
              }
            }
          }
        }
      ]
    },
    {
      "data": {"name": "price"},
      "mark": {"type": "line", "strokeWidth": 1},
      "encoding": {
        "x": {
          "field": "day", "type": "quantitative", "title": null,
          "scale": {"domain": [0, 485], "nice": false, "zero": false},
          "axis": {
            "values": [0, 14, 28, 42, 56, 70, 84, 98, 112, 126, 140, 154, 168, 182, 196, 210, 224, 238, 252, 266, 280, 294, 308, 322, 336, 350, 364, 378, 392, 406, 420, 434, 448, 462, 476],
            "labelExpr": "['2024-8-6','2024-8-27','2024-9-17','2024-10-8','2024-10-29','2024-11-19','2024-12-9','2024-12-27','2025-1-23','2025-2-13','2025-3-6','2025-3-27','2025-4-16','2025-5-9','2025-5-29','2025-6-18','2025-7-8','2025-7-29','2025-8-19','2025-9-8','2025-9-30','2025-10-21','2025-11-11','2025-12-2','2025-12-22','2026-1-15','2026-2-4','2026-2-26','2026-3-18','2026-4-8','2026-4-28','2026-5-22','2026-6-11','2026-7-1','2026-7-22'][round(datum.value / 14)]",
            "labelAngle": 270, "grid": true, "labelOverlap": false
          }
        },
        "y": {
          "field": "price", "type": "quantitative", "title": "株価",
          "scale": {"domain": [1500, 5000], "nice": false, "zero": false},
          "axis": {"orient": "right", "values": [1500, 2000, 2500, 3000, 3500, 4000, 4500, 5000], "format": "d", "grid": false, "titleAngle": 270, "titleFont": "Noto Sans CJK JP", "titleFontSize": 11, "titlePadding": 30, "labelOverlap": false}
        },
        "color": {"datum": "リケンＮＰＲの株価", "type": "nominal"}
      }
    }
  ],
  "resolve": {"scale": {"y": "independent"}}
}
